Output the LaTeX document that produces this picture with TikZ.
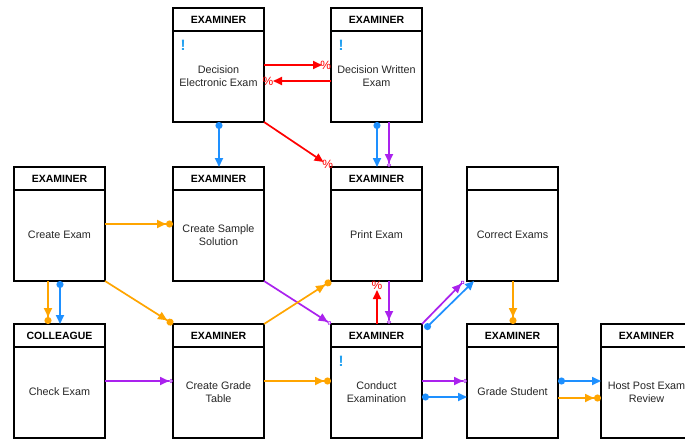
\documentclass[tikz,border=0pt]{standalone}
\usepackage{fontspec}
\setmainfont{Liberation Sans}
\usetikzlibrary{arrows.meta,calc}
\definecolor{cred}{HTML}{FF0000}
\definecolor{cblue}{HTML}{1E90FF}
\definecolor{cpurp}{HTML}{AA22EE}
\definecolor{corg}{HTML}{FFA500}
\definecolor{cbang}{HTML}{22A0F0}
\tikzset{
 box/.style={draw, line width=2.6pt, minimum width=91pt, minimum height=114pt, anchor=north west, inner sep=0pt, outer sep=0pt},
 hdr/.style={font=\fontsize{10.5}{12}\selectfont\bfseries, inner sep=0pt},
 txt/.style={font=\fontsize{10.8}{12.8}\selectfont, align=center, inner sep=0pt, text=black!85},
 bang/.style={font=\fontsize{15}{15}\selectfont\bfseries, text=cbang, inner sep=0pt},
 conn/.style={line width=1.7pt},
 redc/.style={conn, cred, -{Triangle[length=9pt,width=8pt]}, shorten >=9pt},
 pct/.style={text=cred, font=\fontsize{12}{12}\selectfont, inner sep=0pt},
 bluec/.style={conn, cblue, {Circle[length=7pt]}-{Triangle[length=9pt,width=8pt]}},
 orgc/.style={conn, corg, -{Triangle[length=9pt,width=8pt] Circle[length=7pt]}},
 purc/.style={conn, cpurp, -{Triangle[length=9pt,width=8pt] Circle[open,length=4pt,line width=0.7pt]}},
}
\newcommand{\actbox}[5]{%
 \node[box] (#1) at (#2,#3) {};
 \draw[line width=2.6pt] ($(#1.north west)+(0,23)$) -- ($(#1.north east)+(0,23)$);
 \node[hdr] (#1h) at ($(#1.north)+(0,12)$) {#4};
 \node[txt] (#1t) at ($(#1.north)+(0,68)$) {#5};
}
\begin{document}
\begin{tikzpicture}[x=1pt,y=-1pt]
\useasboundingbox[fill=white] (0,0) rectangle (685,439);
% boxes
\actbox{de}{173}{8}{EXAMINER}{Decision\\Electronic Exam}
\actbox{dw}{331}{8}{EXAMINER}{Decision Written\\Exam}
\actbox{ce}{14}{167}{EXAMINER}{Create Exam}
\actbox{ss}{173}{167}{EXAMINER}{Create Sample\\Solution}
\actbox{pe}{331}{167}{EXAMINER}{Print Exam}
\actbox{cx}{467}{167}{}{Correct Exams}
\actbox{ck}{14}{324}{COLLEAGUE}{Check Exam}
\actbox{gt}{173}{324}{EXAMINER}{Create Grade\\Table}
\actbox{co}{331}{324}{EXAMINER}{Conduct\\Examination}
\actbox{gs}{467}{324}{EXAMINER}{Grade Student}
\actbox{hp}{601}{324}{EXAMINER}{Host Post Exam\\Review}
\node[bang] (deb) at ($(de.north west)+(10,37)$) {!};
\node[bang] (dwb) at ($(dw.north west)+(10,37)$) {!};
\node[bang] (cob) at ($(co.north west)+(10,37)$) {!};
% red connectors
\draw[redc] ($(de.north east)+(0,57)$) -- ($(dw.north west)+(0,57)$) node[pct, pos=0.92] (p1) {\%};
\draw[redc] ($(dw.north west)+(0,73)$) -- ($(de.north east)+(0,73)$) node[pct, pos=0.94] (p2) {\%};
\draw[redc] (de.south east) -- (pe.north west) node[pct, pos=0.95] (p3) {\%};
\draw[redc] ($(co.north)+(0.5,0)$) -- ($(pe.south)+(0.5,0)$) node[pct, pos=0.91] (p4) {\%};
% blue connectors
\draw[bluec] ($(de.south)+(0.5,0)$) -- ($(ss.north)+(0.5,0)$);
\draw[bluec] ($(dw.south)+(0.5,0)$) -- ($(pe.north)+(0.5,0)$);
\draw[bluec] ($(ce.south)+(0.5,0)$) -- ($(ck.north)+(0.5,0)$);
\draw[bluec] ($(co.north east)+(3,5)$) -- ($(cx.south west)+(7,0)$);
\draw[bluec] ($(co.east)+(0,16)$) -- ($(gs.west)+(0,16)$);
\draw[bluec] (gs.east) -- (hp.west);
% purple connectors
\draw[purc] ($(dw.south)+(12.5,0)$) -- ($(pe.north)+(12.5,0)$);
\draw[purc] (ss.south east) -- (co.north west);
\draw[purc] (ck.east) -- (gt.west);
\draw[purc] ($(pe.south)+(12.5,0)$) -- ($(co.north)+(12.5,0)$);
\draw[purc] (co.north east) -- ($(cx.south west)+(-3,0)$);
\draw[purc] (co.east) -- (gs.west);
% orange connectors
\draw[orgc] (ce.east) -- (ss.west);
\draw[orgc] ($(ce.south)+(-11.5,0)$) -- ($(ck.north)+(-11.5,0)$);
\draw[orgc] (ce.south east) -- (gt.north west);
\draw[orgc] (gt.north east) -- (pe.south west);
\draw[orgc] (gt.east) -- (co.west);
\draw[orgc] ($(cx.south)+(0.5,0)$) -- ($(gs.north)+(0.5,0)$);
\draw[orgc] ($(gs.east)+(0,17)$) -- ($(hp.west)+(0,17)$);
\end{tikzpicture}
\end{document}
